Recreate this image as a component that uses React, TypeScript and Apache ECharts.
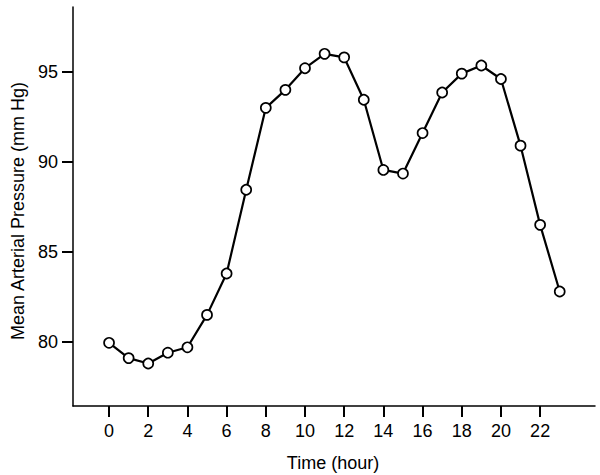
import React, { useEffect, useRef } from "react";
import * as echarts from "echarts";

const hours = [0, 1, 2, 3, 4, 5, 6, 7, 8, 9, 10, 11, 12, 13, 14, 15, 16, 17, 18, 19, 20, 21, 22, 23];
const pressure = [79.95, 79.1, 78.8, 79.4, 79.7, 81.5, 83.8, 88.45, 93.0, 94.0, 95.2, 96.0, 95.8, 93.45, 89.55, 89.35, 91.6, 93.85, 94.9, 95.35, 94.6, 90.9, 86.5, 82.8];
const xTicks = [0, 2, 4, 6, 8, 10, 12, 14, 16, 18, 20, 22];
const yTicks = [80, 85, 90, 95];
const xTitle = "Time (hour)";
const yTitle = "Mean Arterial Pressure (mm Hg)";

export default function App() {
  const ref = useRef<HTMLDivElement>(null);
  useEffect(() => {
    if (!ref.current) return;
    const chart = echarts.init(ref.current, null, { renderer: "svg" });
    const font = "'Liberation Sans', Arial, Helvetica, sans-serif";
    chart.setOption({
      animation: false,
      backgroundColor: "#ffffff",
      grid: { left: 73, top: 7, width: 522, height: 399, containLabel: false },
      xAxis: {
        type: "value",
        min: -1.84,
        max: 24.8,
        splitLine: { show: false },
        axisLine: { show: true, onZero: false, lineStyle: { color: "#000", width: 1.5 } },
        axisTick: { show: true, inside: false, length: 11, customValues: xTicks, lineStyle: { color: "#000", width: 2 } },
        axisLabel: { show: true, customValues: xTicks, margin: 16, color: "#000", fontSize: 18, fontFamily: font },
      },
      yAxis: {
        type: "value",
        min: 76.44,
        max: 98.6,
        splitLine: { show: false },
        axisLine: { show: true, onZero: false, lineStyle: { color: "#000", width: 1.5 } },
        axisTick: { show: true, inside: false, length: 11, customValues: yTicks, lineStyle: { color: "#000", width: 2 } },
        axisLabel: { show: true, customValues: yTicks, margin: 15, color: "#000", fontSize: 18, fontFamily: font },
      },
      graphic: [
        {
          type: "text",
          x: 333,
          y: 463,
          style: { text: xTitle, fill: "#000", font: `18px ${font}`, textAlign: "center", textVerticalAlign: "middle" },
        },
        {
          type: "text",
          x: 18,
          y: 211,
          rotation: Math.PI / 2,
          style: { text: yTitle, fill: "#000", font: `18px ${font}`, textAlign: "center", textVerticalAlign: "middle" },
        },
      ],
      series: [
        {
          type: "line",
          data: hours.map((h, i) => [h, pressure[i]]),
          symbol: "circle",
          symbolSize: 10,
          showAllSymbol: true,
          lineStyle: { color: "#000", width: 2.2 },
          itemStyle: { color: "#fff", borderColor: "#000", borderWidth: 1.7 },
        },
      ],
    });
    return () => chart.dispose();
  }, []);
  return <div ref={ref} style={{ position: "fixed", left: 0, top: 0, width: 600, height: 475 }} />;
}
